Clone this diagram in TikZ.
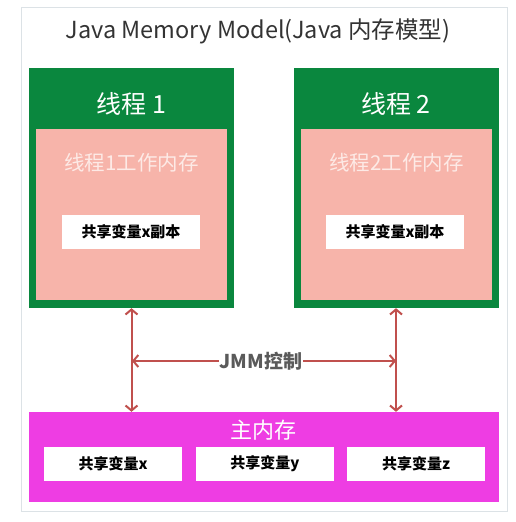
\documentclass[tikz,border=0pt]{standalone}
\usepackage{fontspec}
\setmainfont{Noto Sans CJK SC}
\usetikzlibrary{arrows.meta}
\definecolor{thgreen}{HTML}{0A873E}
\definecolor{wpink}{HTML}{F7B4AA}
\definecolor{mmag}{HTML}{EE3DE3}
\definecolor{arrred}{HTML}{C0504D}
\definecolor{framegray}{HTML}{DCE2E6}
\definecolor{titlegray}{HTML}{333333}
\definecolor{jmmgray}{HTML}{5A5A5A}
\definecolor{ltpink}{HTML}{FDEAE6}
\tikzset{
  fs/.style={font=\fontsize{#1}{#1}\selectfont},
  thread/.style={draw=none,fill=thgreen,minimum width=205pt,minimum height=240pt,inner sep=0pt},
  workmem/.style={draw=none,fill=wpink,minimum width=191pt,minimum height=171pt,inner sep=0pt},
  varbox/.style={draw=none,fill=white,minimum width=138pt,minimum height=34pt,inner sep=0pt,font=\bfseries\fontsize{15}{15}\selectfont,text=black},
  mainmem/.style={draw=none,fill=mmag,minimum width=470pt,minimum height=90pt,inner sep=0pt},
  txt/.style={inner sep=0pt,anchor=center},
  barb/.tip={Straight Barb[length=5pt,width=12pt,line width=2pt]},
  arr/.style={draw=arrred,line width=2pt,-barb},
  darr/.style={draw=arrred,line width=2pt,barb-barb},
}
\begin{document}
\begin{tikzpicture}[x=1pt,y=-1pt]
\useasboundingbox (0,0) rectangle (516,522);
\draw[framegray,line width=0.8pt] (21,7) rectangle (507,511);
\node[txt,fs=23.5,text=titlegray] (title) at (258,31) {Java Memory Model(Java 内存模型)};
% thread 1
\node[thread] (t1) at (131.5,188) {};
\node[workmem] (w1) at (131.5,214.5) {};
\node[txt,fs=25,text=white] (t1lab) at (131.5,104) {线程 1};
\node[txt,fs=20.5,text=ltpink] (w1lab) at (131.5,163) {线程1工作内存};
\node[varbox] (v1) at (131,231.5) {共享变量x副本};
% thread 2
\node[thread] (t2) at (396,188) {};
\node[workmem] (w2) at (396.5,214.5) {};
\node[txt,fs=25,text=white] (t2lab) at (396,104) {线程 2};
\node[txt,fs=20.5,text=ltpink] (w2lab) at (396.5,163) {线程2工作内存};
\node[varbox] (v2) at (395,231.5) {共享变量x副本};
% main memory
\node[mainmem] (mm) at (264,457) {};
\node[txt,fs=22,text=white] (mmlab) at (263,430) {主内存};
\node[varbox] (sx) at (113,464) {共享变量x};
\node[varbox] (sy) at (265,464) {共享变量y};
\node[varbox] (sz) at (416,464) {共享变量z};
% arrows
\draw[darr] (t1.south) -- (t1.south |- mm.north);
\draw[darr] (t2.south) -- (t2.south |- mm.north);
\coordinate (hl) at (132,361);
\coordinate (hr) at (396,361);
\node[txt,font=\bfseries\fontsize{19}{19}\selectfont,text=jmmgray,fill=white,inner xsep=1pt] (jmm) at (261,361) {JMM控制};
\draw[arr] (jmm.west) -- (hl);
\draw[arr] (jmm.east) -- (hr);
\end{tikzpicture}
\end{document}
